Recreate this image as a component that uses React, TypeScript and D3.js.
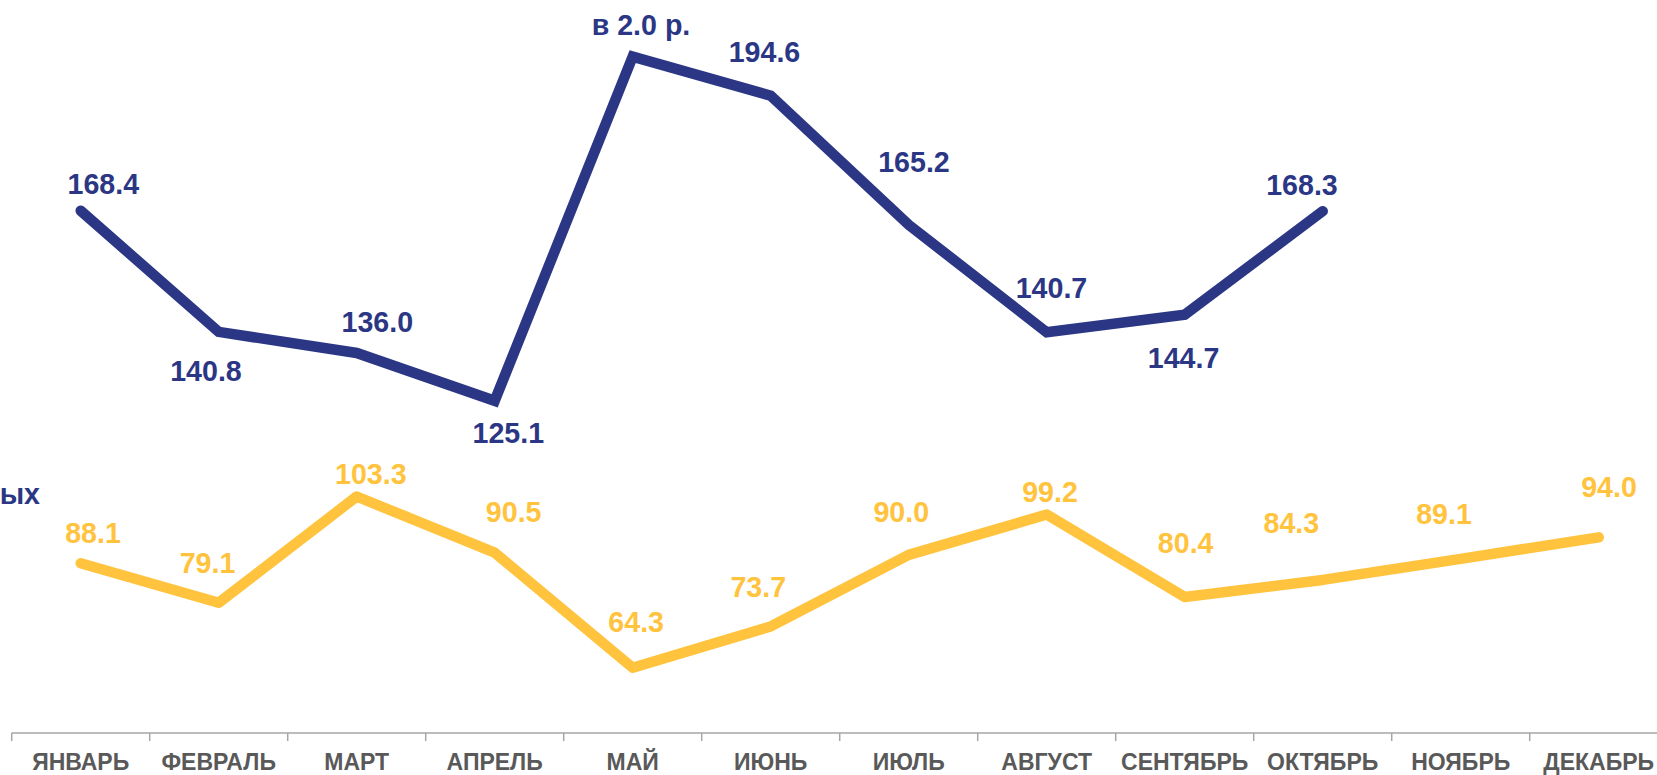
import React from "react";
import * as d3 from "d3";

const months = ["ЯНВАРЬ","ФЕВРАЛЬ","МАРТ","АПРЕЛЬ","МАЙ","ИЮНЬ","ИЮЛЬ","АВГУСТ","СЕНТЯБРЬ","ОКТЯБРЬ","НОЯБРЬ","ДЕКАБРЬ"];
const blueValues = [168.4, 140.8, 136.0, 125.1, 203.5, 194.6, 165.2, 140.7, 144.7, 168.3];
const blueLabels = ["168.4","140.8","136.0","125.1","в 2.0 р.","194.6","165.2","140.7","144.7","168.3"];
const yellowValues = [88.1, 79.1, 103.3, 90.5, 64.3, 73.7, 90.0, 99.2, 80.4, 84.3, 89.1, 94.0];
const yellowLabels = ["88.1","79.1","103.3","90.5","64.3","73.7","90.0","99.2","80.4","84.3","89.1","94.0"];
const legendFragment = "ых";

// label placement offsets (style, relative to point)
const blueOffsets: [number, number][] = [[22.6,-16.4],[-12.7,49],[20.6,-21],[13.6,42],[8.3,-21.6],[-6.2,-34],[5.3,-52.8],[4.8,-34.3],[-1.1,53],[-20.7,-16]];
const yellowOffsets: [number, number][] = [[12.3,-20],[-11.2,-30],[14.1,-12.5],[19,-30.7],[3.5,-35.7],[-12.4,-29.5],[-7.4,-33],[3.3,-12.5],[1,-44],[-31.3,-47],[-16.7,-35],[10.3,-40]];

const W = 1657, H = 775;
const BLUE = "#2B3784";
const YELLOW = "#FFC33E";
const AXIS = "#A6A6A6";
const LABEL = "#595959";
const FONT = "'Liberation Sans', Arial, sans-serif";

export default function App() {
  const x = d3.scaleBand<string>().domain(months).range([11.7, 11.7 + 138 * 12]).padding(0);
  const y = d3.scaleLinear().domain([49.43, 216]).range([733, 733 - (216 - 49.43) * 4.39]);
  const cx = (i: number) => (x(months[i]) as number) + x.bandwidth() / 2;
  const line = d3.line<number>().x((_, i) => cx(i)).y((v) => y(v));
  const axisY = y(49.43);
  const boundaries = d3.range(months.length + 1).map((k) => 11.7 + k * x.bandwidth());

  return (
    <svg width={W} height={H} style={{ position: "absolute", left: 0, top: 0, background: "#fff" }} fontFamily={FONT}>
      <line x1={11.7} x2={W} y1={axisY} y2={axisY} stroke={AXIS} strokeWidth={1.5} />
      {boundaries.map((bx, k) => (
        <line key={k} x1={bx} x2={bx} y1={axisY} y2={axisY + 8} stroke={AXIS} strokeWidth={1.5} />
      ))}
      {months.map((m, i) => (
        <text key={m} x={cx(i)} y={769.5} textAnchor="middle" fontSize={23} fontWeight="bold" fill={LABEL}>{m}</text>
      ))}
      <path d={line(yellowValues) || ""} fill="none" stroke={YELLOW} strokeWidth={10.5} strokeLinecap="round" strokeLinejoin="round" />
      <path d={line(blueValues) || ""} fill="none" stroke={BLUE} strokeWidth={10.5} strokeLinecap="round" strokeLinejoin="miter" />
      {yellowValues.map((v, i) => (
        <text key={"y" + i} x={cx(i) + yellowOffsets[i][0]} y={y(v) + yellowOffsets[i][1]} textAnchor="middle" fontSize={28.6} fontWeight="bold" fill={YELLOW}>{yellowLabels[i]}</text>
      ))}
      {blueValues.map((v, i) => (
        <text key={"b" + i} x={cx(i) + blueOffsets[i][0]} y={y(v) + blueOffsets[i][1]} textAnchor="middle" fontSize={28.6} fontWeight="bold" fill={BLUE}>{blueLabels[i]}</text>
      ))}
      <text x={40} y={504} textAnchor="end" fontSize={28.6} fontWeight="bold" fill={BLUE}>{legendFragment}</text>
    </svg>
  );
}
